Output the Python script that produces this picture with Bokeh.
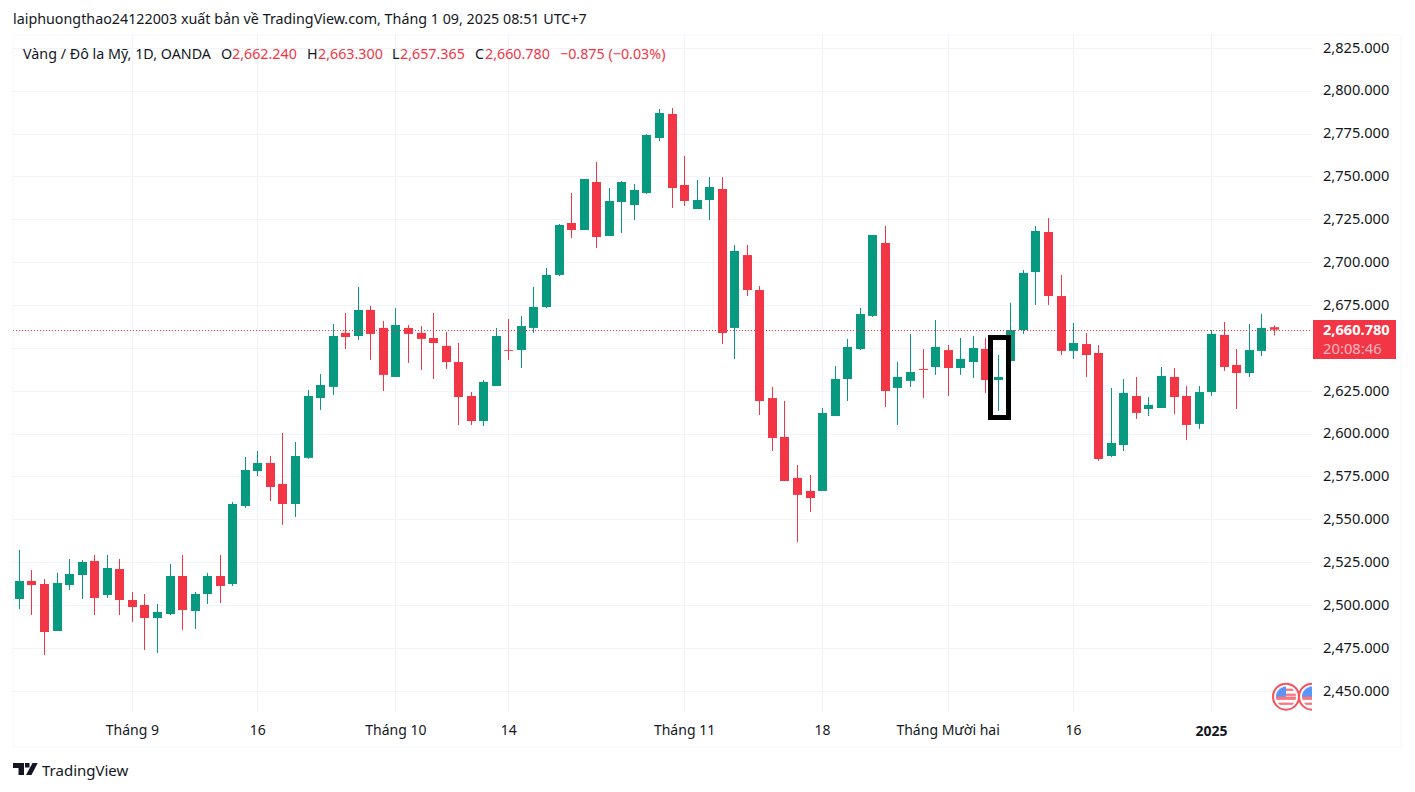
import math
from bokeh.plotting import figure
from bokeh.embed import file_html
from bokeh.resources import INLINE
from bokeh.models import (ColumnDataSource, Label, BoxAnnotation, PolyAnnotation, FixedTicker,
                          LinearAxis, Range1d)

highs = [2532.3,2520.6,2515.4,2518.9,2527.0,2526.4,2529.4,2529.4,2527.0,2507.8,
         2506.6,2500.8,2524.1,2529.4,2507.8,2518.9,2529.4,2560.3,2586.5,2590.0,
         2587.1,2600.5,2595.3,2625.6,2634.9,2664.1,2670.5,2685.7,2674.6,2665.9,
         2673.4,2663.5,2662.9,2670.5,2659.4,2653.0,2624.4,2631.4,2661.8,2667.0,
         2668.8,2685.7,2696.8,2722.4,2740.5,2748.7,2758.6,2743.4,2747.5,2745.8,
         2774.9,2789.5,2790.1,2762.1,2748.1,2749.8,2749.8,2710.2,2710.2,2686.2,
         2627.4,2619.2,2581.9,2576.0,2615.1,2639.6,2655.4,2673.4,2716.0,2721.3,
         2641.9,2658.3,2649.5,2666.4,2651.9,2655.9,2657.1,2655.9,2646.0,2676.4,
         2695.6,2721.3,2725.9,2692.7,2664.7,2658.8,2651.8,2626.8,2632.0,2633.2,
         2621.5,2639.0,2638.4,2627.9,2627.9,2660.6,2665.3,2649.5,2664.1,2669.9,2663.3]
lows = [2497.8,2494.3,2471.0,2485.0,2508.9,2503.7,2494.3,2504.3,2494.3,2490.3,
        2473.9,2472.2,2494.3,2485.6,2486.2,2500.8,2501.3,2511.3,2556.8,2575.4,
        2560.9,2546.9,2551.5,2585.4,2613.9,2622.7,2649.5,2654.8,2643.1,2625.0,
        2633.2,2641.4,2637.3,2632.0,2637.9,2605.2,2605.2,2604.6,2627.9,2643.1,
        2638.4,2658.9,2673.4,2692.1,2714.2,2718.9,2708.4,2715.4,2717.2,2724.8,
        2739.9,2770.8,2731.8,2732.9,2731.2,2724.8,2652.4,2643.7,2680.4,2611.0,
        2590.0,2572.5,2536.9,2554.4,2566.7,2610.4,2619.2,2648.9,2668.2,2615.7,
        2605.2,2627.4,2620.9,2634.4,2622.1,2634.4,2632.6,2623.9,2613.4,2642.5,
        2658.3,2675.2,2675.2,2646.0,2643.7,2633.2,2584.2,2586.5,2590.0,2608.7,
        2610.4,2615.1,2611.6,2596.4,2602.9,2622.1,2636.7,2614.5,2633.2,2645.4,2657.365]
opens = [2503.7,2514.2,2512.4,2485.0,2511.9,2517.7,2525.9,2506.0,2521.2,2503.1,
         2500.2,2492.6,2494.9,2517.1,2496.7,2506.6,2517.1,2512.4,2557.9,2578.3,
         2583.0,2570.8,2559.1,2586.0,2620.9,2627.4,2658.9,2657.1,2672.3,2661.8,
         2633.2,2661.8,2658.9,2655.9,2651.3,2641.9,2622.1,2607.5,2627.9,2648.9,
         2648.9,2661.8,2674.0,2692.7,2723.0,2718.9,2746.9,2715.4,2735.2,2733.5,
         2740.5,2772.6,2786.6,2745.2,2731.2,2736.4,2742.8,2661.8,2704.3,2683.9,
         2620.9,2598.2,2574.3,2566.7,2566.7,2610.4,2632.0,2649.5,2668.8,2711.3,
         2626.8,2630.9,2637.9,2639.0,2648.9,2638.4,2641.9,2649.5,2631.4,2642.5,
         2660.6,2694.4,2717.8,2680.4,2648.4,2652.4,2647.2,2587.1,2593.5,2622.1,
         2614.5,2615.1,2633.2,2622.1,2605.8,2624.4,2657.7,2640.2,2635.5,2648.4,2662.24]
closes = [2514.2,2511.9,2484.4,2513.0,2518.3,2525.3,2504.3,2521.8,2503.1,2499.0,
          2492.6,2496.1,2517.1,2497.3,2506.6,2517.1,2511.3,2559.1,2578.9,2583.0,
          2569.0,2559.1,2587.1,2622.1,2628.5,2657.1,2656.5,2672.3,2658.3,2634.4,
          2663.5,2658.3,2655.4,2653.0,2641.9,2621.5,2607.5,2630.3,2657.1,2648.4,
          2662.9,2674.0,2692.7,2721.8,2718.9,2748.7,2714.8,2735.8,2746.9,2742.2,
          2774.3,2787.2,2743.4,2735.8,2736.4,2744.0,2658.9,2706.7,2683.9,2619.2,
          2597.6,2572.5,2564.4,2562.6,2612.2,2632.0,2650.7,2669.9,2716.0,2625.0,
          2633.2,2636.1,2637.3,2650.7,2638.4,2643.7,2650.1,2631.4,2633.2,2660.6,
          2693.9,2718.4,2680.4,2648.4,2653.0,2646.0,2585.4,2594.7,2623.9,2612.2,
          2616.9,2633.8,2621.5,2605.2,2624.4,2658.3,2639.0,2635.5,2648.9,2661.8,2660.78]

y_ticks = [2450,2475,2500,2525,2550,2575,2600,2625,2650,2675,2700,2725,2750,2775,2800,2825]
x_ticks = [9,19,30,39,53,64,74,84,95]
x_labels = ["Tháng 9","16","Tháng 10","14","Tháng 11","18","Tháng Mười hai","16",""]
bold_label = "2025"
last_price = 2660.78

GREEN="#089981"; RED="#F23645"; INK="#131722"; GRID="#F0F3FA"; FONT="Noto Sans"
def X(px): return (px-19.4)/12.55
def Y(py): return 2675-(py-305.3)*0.58333
def PX(i): return 19.4+12.55*i
def PY(v): return 305.3+(2675-v)/0.58333

W,H=1407,784
FL,FR,FT,FB=13,1312,35,712
# half-pixel range shift cancels the renderer's half-pixel translate, so edges land on pixels
p = figure(width=W,height=H,output_backend="svg",toolbar_location=None,
           x_range=Range1d(X(0.5),X(W+0.5)),y_range=Range1d(Y(H+0.5),Y(0.5)),
           min_border=0,outline_line_color=None,
           background_fill_color="white",border_fill_color="white",
           x_axis_location=None,y_axis_location=None)
p.xgrid.visible=False; p.ygrid.visible=False

y_locs=[t+0.3 for t in y_ticks]
ya=LinearAxis(ticker=FixedTicker(ticks=y_locs),
              major_label_overrides={l:f"{t:,.3f}" for l,t in zip(y_locs,y_ticks)},
              fixed_location=X(FR),level="overlay",
              major_tick_line_color=None,minor_tick_line_color=None,axis_line_color=None,
              major_tick_out=0,major_tick_in=0,
              major_label_text_font=FONT,major_label_text_font_size="14.6px",
              major_label_text_color=INK,major_label_standoff=11)
p.add_layout(ya,"right")
xa=LinearAxis(ticker=FixedTicker(ticks=x_ticks),major_label_overrides=dict(zip(x_ticks,x_labels)),
              fixed_location=Y(FB),
              major_tick_line_color=None,minor_tick_line_color=None,axis_line_color=None,
              major_tick_out=0,major_tick_in=0,
              major_label_text_font=FONT,major_label_text_font_size="14px",
              major_label_text_color=INK,major_label_standoff=8)
p.add_layout(xa,"below")

gx=[X(math.floor(PX(t))+0.5) for t in x_ticks]
gy=[Y(math.floor(PY(t)+0.2)+0.5) for t in y_ticks]
p.segment(gx,[Y(FB)]*len(gx),gx,[Y(FT)]*len(gx),line_color=GRID,line_width=1)
p.segment([X(FL)]*len(gy),gy,[X(FR)]*len(gy),gy,line_color=GRID,line_width=1)

snapped=[X(math.floor(PX(i))+0.5) for i in range(len(opens))]
cols=[GREEN if c>=o else RED for o,c in zip(opens,closes)]
src=ColumnDataSource(dict(x=snapped,o=opens,c=closes,h=highs,l=lows,col=cols,
                          top=[max(o,c) for o,c in zip(opens,closes)],
                          bot=[min(o,c) for o,c in zip(opens,closes)]))
p.segment("x","h","x","l",source=src,line_color="col",line_width=1)
p.vbar(x="x",top="top",bottom="bot",width=9/12.55,source=src,fill_color="col",line_color=None)

p.segment([X(FL)],[Y(330.5)],[X(FR)],[Y(330.5)],line_color=RED,line_width=1,line_dash="1 2")

# marked box
p.quad(left=[X(990.5)],right=[X(1008.5)],top=[Y(337.5)],bottom=[Y(417.5)],fill_color=None,
       line_color="black",line_width=5,line_join="miter")

# flags
def flag(cx_px,cy_px):
    pxx=1/12.55; pyy=0.58333
    cx,cy=X(cx_px),Y(cy_px)
    p.scatter([cx],[cy],size=26,fill_color="white",line_color="#F7525F",line_width=2)
    R=10
    for d in range(-R,R):
        m=d+0.5
        hw=math.sqrt(R*R-m*m)
        t=cy-d*pyy; b=cy-(d+1)*pyy
        if d<0:
            p.quad(left=[cx-hw*pxx],right=[cx],top=[t],bottom=[b],fill_color="#3179F5",line_color=None)
            if d in(-8,-7,-3,-2):
                p.quad(left=[cx],right=[cx+hw*pxx],top=[t],bottom=[b],fill_color="#F7525F",line_color=None)
        elif d in (0,1,2,6,7):
            p.quad(left=[cx-hw*pxx],right=[cx+hw*pxx],top=[t],bottom=[b],fill_color="#F7525F",line_color=None)
flag(1286,696.7); flag(1312,696.7)

def box(l,r,t,b,**kw):
    p.add_layout(BoxAnnotation(left=X(l),right=X(r),top=Y(t),bottom=Y(b),**kw))
box(1312,1330,680,712,fill_color="white",fill_alpha=1,line_color=None)

def lab(text,px,py,color=INK,size="14.3px",align="left",style="normal",alpha=1.0,level="annotation"):
    p.add_layout(Label(x=X(px),y=Y(py-0.5),text=text,text_color=color,text_font=FONT,
                       text_font_size=size,text_align=align,text_baseline="middle",
                       text_font_style=style,text_alpha=alpha,level=level))

lab(bold_label,1211.5,731,size="14px",align="center",style="bold")

# outer border
box(13,1401,35,747,fill_alpha=0,line_color=GRID,line_width=2)

# last price tag, above the overlay-level axis
box(1313,1396,320,359,fill_color=RED,fill_alpha=1,line_color=RED,line_alpha=1,line_width=0,level="overlay")
lab("2,660.780",1323,330,color="white",style="bold",size="14.6px",level="overlay")
lab("20:08:46",1323,348,color="white",alpha=0.65,size="14.8px",level="overlay")

# header
lab("laiphuongthao24122003 xuất bản về TradingView.com, Tháng 1 09, 2025 08:51 UTC+7",13,19)
lab("Vàng / Đô la Mỹ, 1D, OANDA",23,54)
lab("O",221,54); lab("2,662.240",232,54,color=RED)
lab("H",307,54); lab("2,663.300",318,54,color=RED)
lab("L",392,54); lab("2,657.365",400,54,color=RED)
lab("C",475,54); lab("2,660.780",485,54,color=RED)
lab("−0.875 (−0.03%)",560,54,color=RED)

# footer logo
T_x=[13,24,24,18.5,18.5,13]; T_y=[763,763,775,775,768,768]
S_x=[32.5,37.7,31.5,26]; S_y=[763,763,775,775]
for xs,ys in ((T_x,T_y),(S_x,S_y)):
    p.add_layout(PolyAnnotation(xs=[X(v) for v in xs],ys=[Y(v) for v in ys],fill_color=INK,fill_alpha=1,line_color=None))
box(25,29.5,763,767.5,fill_color=INK,fill_alpha=1,line_color=None)
lab("TradingView",42,770,size="15px")

open("out.html","w").write(file_html(p,INLINE))
